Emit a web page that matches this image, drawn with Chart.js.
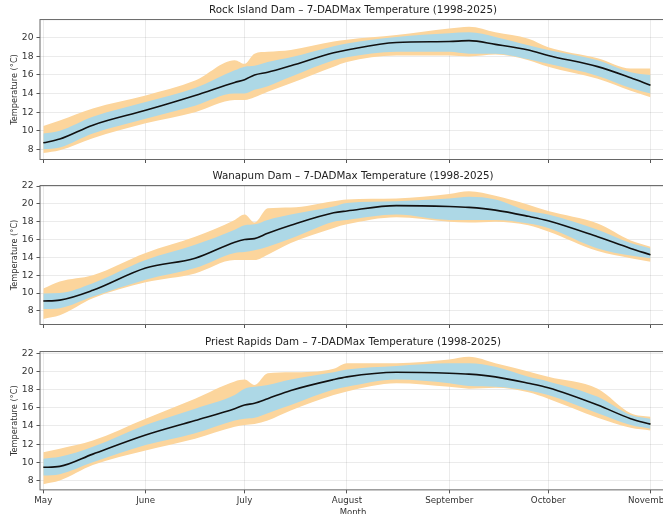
<!DOCTYPE html>
<html>
<head>
<meta charset="utf-8">
<script src="https://cdn.jsdelivr.net/npm/chart.js@4.4.1/dist/chart.umd.min.js"></script>
<style>
  html, body { margin: 0; padding: 0; background: #fff; overflow: hidden; width: 663px; height: 514px; }
  .panel { position: absolute; left: 0; width: 672px; }
</style>
</head>
<body>
<div class="panel" style="top:0;height:164px"><canvas id="rock"></canvas></div>
<div class="panel" style="top:166px;height:163px"><canvas id="wana"></canvas></div>
<div class="panel" style="top:332px;height:186px"><canvas id="priest"></canvas></div>
<script>
// days since May 1
const days = [0, 5, 15, 31, 46, 58, 61, 64, 68, 75, 88, 92, 107, 123, 129, 137, 147, 153, 168, 178, 184];
const monthTicks = [0, 31, 61, 92, 123, 153, 184];
const monthLabels = ['May', 'June', 'July', 'August', 'September', 'October', 'November'];
const yTicksRock = [8, 10, 12, 14, 16, 18, 20];
const yTicksOther = [8, 10, 12, 14, 16, 18, 20, 22];

// Rock Island
const rockMedian = [8.7, 9.1, 10.6, 12.2, 13.8, 15.2, 15.5, 16.0, 16.3, 17.0, 18.4, 18.7, 19.5, 19.6, 19.7, 19.3, 18.7, 18.1, 16.9, 15.7, 14.9];
const rockP90 = [9.7, 10.0, 11.5, 13.1, 14.6, 16.5, 16.9, 17.0, 17.4, 17.9, 19.1, 19.4, 20.1, 20.5, 20.6, 20.1, 19.2, 18.7, 17.6, 16.3, 16.0];
const rockP10 = [8.0, 8.2, 9.7, 11.3, 12.7, 14.0, 14.0, 14.4, 14.8, 15.8, 17.6, 17.9, 18.5, 18.5, 18.3, 18.3, 17.7, 17.2, 15.9, 14.6, 14.0];
const rockMax = [10.5, 11.1, 12.4, 13.8, 15.4, 17.6, 17.2, 18.3, 18.5, 18.7, 19.6, 19.8, 20.3, 21.0, 21.2, 20.6, 19.9, 19.0, 17.8, 16.7, 16.7];
const rockMin = [7.6, 7.9, 9.2, 10.8, 12.0, 13.3, 13.3, 13.6, 14.2, 15.1, 16.9, 17.4, 18.1, 18.1, 18.0, 18.2, 17.6, 16.9, 15.6, 14.3, 13.6];

// Wanapum
const wanaMedian = [9.1, 9.2, 10.3, 12.8, 13.9, 15.7, 16.0, 16.1, 16.7, 17.6, 19.0, 19.2, 19.8, 19.7, 19.6, 19.3, 18.6, 18.1, 16.3, 15.0, 14.3];
const wanaP90 = [9.95, 10.0, 11.1, 13.7, 15.4, 17.1, 17.6, 17.7, 18.2, 18.8, 19.7, 20.1, 20.3, 20.6, 20.8, 20.5, 19.2, 18.8, 17.1, 15.6, 15.0];
const wanaP10 = [8.2, 8.3, 9.6, 11.5, 12.8, 14.5, 14.6, 14.8, 15.2, 16.1, 18.0, 18.2, 18.8, 18.2, 18.2, 18.2, 17.8, 17.3, 15.0, 14.2, 13.9];
const wanaMax = [10.5, 11.3, 12.0, 14.5, 16.3, 18.2, 18.8, 17.9, 19.5, 19.6, 20.3, 20.5, 20.6, 21.1, 21.4, 20.9, 19.9, 19.2, 17.8, 15.9, 15.2];
const wanaMin = [7.1, 7.5, 9.4, 11.2, 12.2, 13.7, 13.7, 13.7, 14.3, 15.6, 17.3, 17.7, 18.5, 18.0, 17.9, 18.0, 17.6, 16.9, 14.7, 13.9, 13.5];

// Priest Rapids
const priestMedian = [9.45, 9.55, 10.9, 13.0, 14.6, 15.9, 16.3, 16.5, 17.0, 17.9, 19.1, 19.4, 19.9, 19.8, 19.7, 19.4, 18.7, 18.2, 16.3, 14.8, 14.2];
const priestP90 = [10.4, 10.6, 11.7, 14.1, 15.9, 17.4, 18.1, 18.3, 18.5, 19.1, 19.9, 20.2, 20.6, 20.9, 20.9, 20.5, 19.4, 18.9, 17.2, 15.2, 14.8];
const priestP10 = [8.55, 8.7, 10.0, 11.9, 13.2, 14.6, 14.8, 14.9, 15.4, 16.3, 18.0, 18.3, 19.1, 18.7, 18.4, 18.3, 17.9, 17.4, 15.4, 14.1, 13.7];
const priestMax = [11.1, 11.5, 12.4, 14.8, 17.0, 18.9, 19.1, 18.5, 19.8, 19.9, 20.3, 20.9, 20.9, 21.3, 21.6, 20.9, 20.0, 19.4, 18.1, 15.4, 15.0];
const priestMin = [7.6, 8.0, 9.7, 11.3, 12.6, 13.9, 14.1, 14.2, 14.6, 15.7, 17.4, 17.8, 18.7, 18.3, 18.1, 18.2, 17.7, 17.0, 14.9, 13.8, 13.5];

const FONT = 'DejaVu Sans, Verdana, sans-serif';
const ORANGE = '#fcd59c';
const BLUE = '#add8e6';

// matplotlib-style box around the axes
const frame = {
    id: 'frame',
    afterDraw(chart) {
        const { ctx, chartArea: a } = chart;
        ctx.save();
        ctx.strokeStyle = '#666';
        ctx.lineWidth = 1;
        ctx.strokeRect(a.left, a.top, a.right - a.left, a.bottom - a.top);
        ctx.restore();
    },
};

function pts(arr) {
    return days.map((d, i) => ({ x: d, y: arr[i] }));
}

function band(arr, fill, color) {
    return {
        data: pts(arr),
        borderWidth: 0,
        pointRadius: 0,
        backgroundColor: color,
        borderColor: color,
        fill,
        cubicInterpolationMode: 'monotone',
    };
}

function panel(id, title, s, yMin, yMax, yTicks, bottom) {
    return new Chart(document.getElementById(id), {
        type: 'line',
        data: {
            datasets: [
                {
                    data: pts(s.median),
                    borderColor: '#111',
                    borderWidth: 1.6,
                    pointRadius: 0,
                    fill: false,
                    cubicInterpolationMode: 'monotone',
                },
                band(s.p90, '+1', BLUE),
                band(s.p10, false, BLUE),
                band(s.max, '+1', ORANGE),
                band(s.min, false, ORANGE),
            ],
        },
        options: {
            responsive: true,
            maintainAspectRatio: false,
            animation: false,
            layout: { padding: { left: 0, right: 6, top: 0, bottom: bottom ? 0 : 1 } },
            plugins: {
                legend: { display: false },
                tooltip: { enabled: false },
                title: {
                    display: true,
                    fullSize: false,
                    text: title,
                    color: '#222',
                    font: { family: FONT, size: 10.3, weight: 'normal' },
                    padding: { top: 4, bottom: 3.2 },
                },
            },
            scales: {
                x: {
                    type: 'linear',
                    min: -1,
                    max: 188.7,
                    afterBuildTicks: (sc) => { sc.ticks = monthTicks.map(v => ({ value: v })); },
                    afterFit: (sc) => { sc.paddingLeft = 0; sc.paddingRight = 0; },
                    border: { display: false },
                    grid: { color: 'rgba(0,0,0,0.1)', lineWidth: 0.8, tickLength: 3.5, tickColor: '#555', tickWidth: 1 },
                    ticks: {
                        display: bottom,
                        maxRotation: 0,
                        autoSkip: false,
                        padding: 2,
                        color: '#333',
                        font: { family: FONT, size: 8.7 },
                        callback: (v) => monthLabels[monthTicks.indexOf(v)] ?? '',
                    },
                    title: {
                        display: bottom,
                        text: 'Month',
                        color: '#333',
                        padding: 0,
                        font: { family: FONT, size: 8.5 },
                    },
                },
                y: {
                    min: yMin,
                    max: yMax,
                    afterBuildTicks: (sc) => { sc.ticks = yTicks.map(v => ({ value: v })); },
                    afterFit: (sc) => { sc.width = 40; sc.paddingTop = 0; sc.paddingBottom = 0; },
                    border: { display: false },
                    grid: { color: 'rgba(0,0,0,0.1)', lineWidth: 0.8, tickLength: 3.5, tickColor: '#555', tickWidth: 1 },
                    ticks: {
                        padding: 3,
                        color: '#333',
                        font: { family: FONT, size: 9.2 },
                    },
                    title: {
                        display: true,
                        text: 'Temperature (°C)',
                        color: '#333',
                        padding: { top: 10, bottom: 0 },
                        font: { family: FONT, size: 8.2 },
                    },
                },
            },
        },
        plugins: [frame],
    });
}

panel('rock', 'Rock Island Dam – 7-DADMax Temperature (1998-2025)',
    { median: rockMedian, p90: rockP90, p10: rockP10, max: rockMax, min: rockMin },
    6.9, 21.97, yTicksRock, false);
panel('wana', 'Wanapum Dam – 7-DADMax Temperature (1998-2025)',
    { median: wanaMedian, p90: wanaP90, p10: wanaP10, max: wanaMax, min: wanaMin },
    6.47, 22.05, yTicksOther, false);
panel('priest', 'Priest Rapids Dam – 7-DADMax Temperature (1998-2025)',
    { median: priestMedian, p90: priestP90, p10: priestP10, max: priestMax, min: priestMin },
    6.97, 22.18, yTicksOther, true);
</script>
</body>
</html>
